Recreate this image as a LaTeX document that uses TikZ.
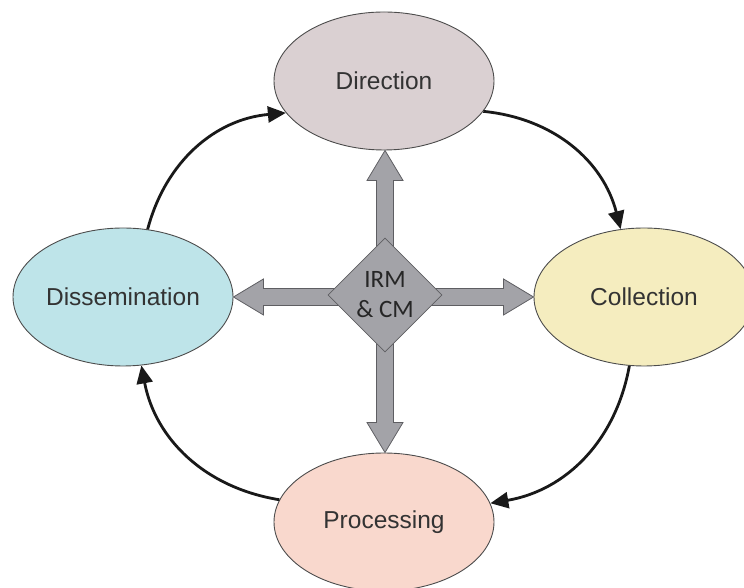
\documentclass[tikz,border=0pt]{standalone}
\usepackage{fontspec}
\setmainfont{Liberation Sans}
\newfontfamily\irmfont{Carlito}
\usetikzlibrary{shapes.geometric,arrows.meta,calc}
\definecolor{dirfill}{HTML}{DAD0D2}
\definecolor{colfill}{HTML}{F5EDBF}
\definecolor{disfill}{HTML}{BEE4E9}
\definecolor{profill}{HTML}{F9D8CD}
\definecolor{blockfill}{HTML}{A3A3A8}
\definecolor{blockline}{HTML}{5E5E62}
\definecolor{txt}{HTML}{333333}
\newcommand{\blockarrow}[2]{%
  \path ($(#2)!30pt!(#1)$) coordinate (bB);
  \draw[blockarr] ($(#1)!8.5pt!90:(#2)$) -- ($(bB)!8.5pt!-90:(#1)$) -- ($(bB)!18pt!-90:(#1)$)
    -- (#2) -- ($(bB)!18pt!90:(#1)$) -- ($(bB)!8.5pt!90:(#1)$) -- ($(#1)!8.5pt!-90:(#2)$) -- cycle;}
\begin{document}
\begin{tikzpicture}[x=1pt,y=1pt,
  phase/.style={ellipse, draw=black!70, line width=0.9pt, minimum width=220pt, minimum height=138pt,
    inner sep=0pt, text=txt, font=\fontsize{24.5}{29}\selectfont},
  blockarr/.style={fill=blockfill, draw=blockline, line width=0.8pt, line join=miter},
  flow/.style={line width=2.8pt, draw=black!90, -{Triangle[length=18pt,width=16pt]}}]
\useasboundingbox (0,0) rectangle (744,588);
\node[phase, fill=dirfill] (dir) at (384,507) {Direction};
\node[phase, fill=colfill] (col) at (644,291) {Collection};
\node[phase, fill=disfill] (dis) at (123,291) {Dissemination};
\node[phase, fill=profill] (pro) at (384,66) {Processing};
\coordinate (c) at (385,291);
\coordinate (tup) at (c |- dir.south);
\coordinate (tdn) at (c |- pro.north);
\coordinate (tlf) at (dis.east |- c);
\coordinate (trt) at (col.west |- c);
\blockarrow{c}{tup}
\blockarrow{c}{tdn}
\blockarrow{c}{tlf}
\blockarrow{c}{trt}
\node[diamond, aspect=1, minimum size=114pt, inner sep=0pt, fill=blockfill, draw=blockline, line width=0.8pt,
  text=black!85, align=center, font=\irmfont\fontsize{25}{30}\selectfont] (irm) at (385,293) {IRM\\\& CM};
\draw[flow] (dis.70) to[bend left=35] (dir.198);
\draw[flow] (dir.343) to[bend left=35] (col.109);
\draw[flow] (col.258) to[bend left=35] (pro.10);
\draw[flow] (pro.168) to[bend left=35] (dis.285);
\end{tikzpicture}
\end{document}
